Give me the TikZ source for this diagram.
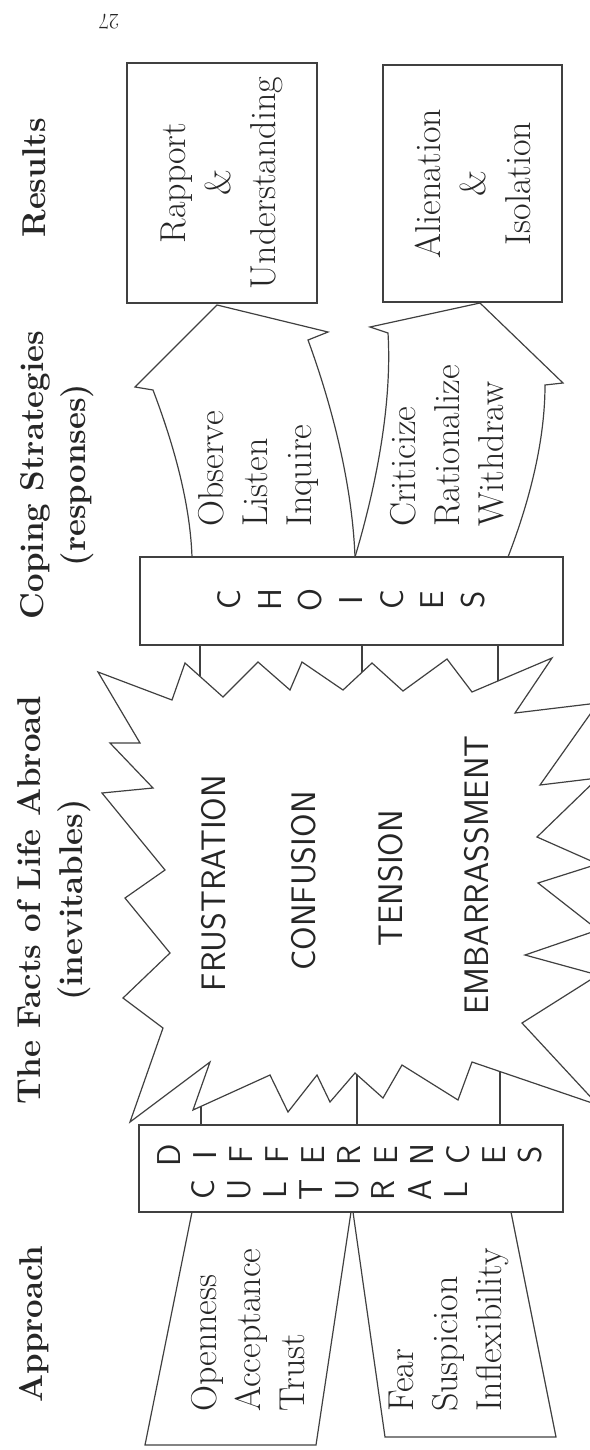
\documentclass[tikz,border=0pt]{standalone}
\usepackage{tikz}
\usetikzlibrary{calc,positioning}

\begin{document}
\begin{tikzpicture}[x=1pt,y=-1pt]

  % Parameters
  \def\difsep{36.1}
  \def\chosep{40.7}

  % Styles
  \tikzstyle{every node}=[inner sep=0pt,text=black!85]
  \tikzstyle{head}=[rotate=90,align=center,font=\fontsize{33}{42}\selectfont\bfseries]
  \tikzstyle{txt}=[rotate=90,align=left,anchor=west,font=\fontsize{36}{44}\selectfont]
  \tikzstyle{res}=[rotate=90,draw=black!75,line width=1.2pt,align=center,font=\fontsize{36}{45}\selectfont]
  \tikzstyle{lbox}=[draw=black!75,line width=1.2pt]
  \tikzstyle{ltr}=[rotate=90,font=\fontsize{33}{33}\selectfont\sffamily]
  \tikzstyle{fact}=[rotate=90,font=\fontsize{34}{34}\selectfont\sffamily]
  \tikzstyle{outline}=[draw=black!75,line width=1.2pt,line join=miter]

  % \letters{<id>}{<x0>}{<y>}{<sep>}{<list>}
  \newcommand{\letters}[5]{%
    \foreach \ch [count=\i from 0] in {#5}
      \node[ltr] (#1-\i) at ({#2+#4*\i},#3) {\ch};
  }

  \useasboundingbox (0,0) rectangle (589,1450);

  % ===========================================================================

  % Draw the burst
  \draw[outline,fill=white] (98,672) -- (140,743) -- (110,743) -- (153,788) -- (102,793)
    -- (165,870) -- (125,898) -- (170,953) -- (123,998) -- (163,1028) -- (130,1122)
    -- (210,1062) -- (193,1110) -- (270,1075) -- (288,1112) -- (317,1075) -- (330,1102)
    -- (355,1073) -- (383,1098) -- (402,1065) -- (458,1100) -- (472,1062) -- (598,1105)
    -- (522,1023) -- (598,975) -- (525,955) -- (598,930) -- (538,883) -- (598,864)
    -- (537,837) -- (598,778) -- (540,785) -- (598,703) -- (515,713) -- (552,658)
    -- (472,692) -- (447,659) -- (403,691) -- (372,663) -- (343,690) -- (302,662)
    -- (290,690) -- (258,662) -- (223,697) -- (185,663) -- (172,700) -- cycle;
  \coordinate (up-0) at (200,676);
  \coordinate (up-1) at (362,672);
  \coordinate (up-2) at (498,681);
  \coordinate (dn-0) at (201,1106);
  \coordinate (dn-1) at (357,1075);
  \coordinate (dn-2) at (500,1072);

  % Draw boxes
  \node[lbox,minimum width=423pt,minimum height=88pt] (choices) at (351.5,601) {};
  \node[lbox,minimum width=424pt,minimum height=87pt] (diff) at (351,1168.5) {};
  \node[res,minimum width=240pt,minimum height=190pt] (rapport) at (222,183) {Rapport\\\&\\Understanding};
  \node[res,minimum width=237pt,minimum height=179pt] (alien) at (472.5,183.5) {Alienation\\\&\\Isolation};

  \letters{cho}{229}{600}{\chosep}{C,H,O,I,C,E,S}
  \letters{dif}{169}{1155}{\difsep}{D,I,F,F,E,R,E,N,C,E,S}
  \letters{cul}{203}{1190}{\difsep}{C,U,L,T,U,R,A,L}

  % Draw links into the burst
  \foreach \k in {0,1,2} {
    \draw[outline] (up-\k |- choices.south) -- (up-\k);
    \draw[outline] (dn-\k |- diff.north) -- (dn-\k);
  }

  % Draw coping arrows
  \draw[outline] (192,557) .. controls (190,500) and (172,440) .. (153,390) -- (135,387)
    -- (217,305) -- (328,332) -- (308,340) .. controls (330,400) and (352,480) .. (355,557);
  \draw[outline] (355,557) .. controls (378,480) and (392,400) .. (388,333) -- (370,327)
    -- (480,303) -- (563,383) -- (545,385) .. controls (545,440) and (530,500) .. (508,557);

  % Draw approach bands
  \draw[outline] (192,1212) -- (145,1445) -- (316,1445) -- (351,1212);
  \draw[outline] (353,1212) -- (385,1437) -- (556,1437) -- (511,1212);

  % Headings
  \node[head] (h-res) at (34,178) {Results};
  \node[head] (h-cop) at (57.5,475) {Coping Strategies\\(responses)};
  \node[head] (h-fac) at (54.5,900) {The Facts of Life Abroad\\(inevitables)};
  \node[head] (h-app) at (34,1324) {Approach};
  \node[rotate=180,font=\fontsize{22}{22}\selectfont] (pnum) at (109,22) {27};

  % Texts
  \node[txt] (t-obs) at (258,527) {Observe\\Listen\\Inquire};
  \node[txt] (t-cri) at (447,527) {Criticize\\Rationalize\\Withdraw};
  \node[txt] (t-ope) at (248,1412) {Openness\\Acceptance\\Trust};
  \node[txt] (t-fea) at (449,1412) {Fear\\Suspicion\\Inflexibility};
  \node[fact] (f-fru) at (214,883) {FRUSTRATION};
  \node[fact] (f-con) at (304,881) {CONFUSION};
  \node[fact] (f-ten) at (391,878) {TENSION};
  \node[fact] (f-emb) at (477,875) {EMBARRASSMENT};

\end{tikzpicture}
\end{document}
